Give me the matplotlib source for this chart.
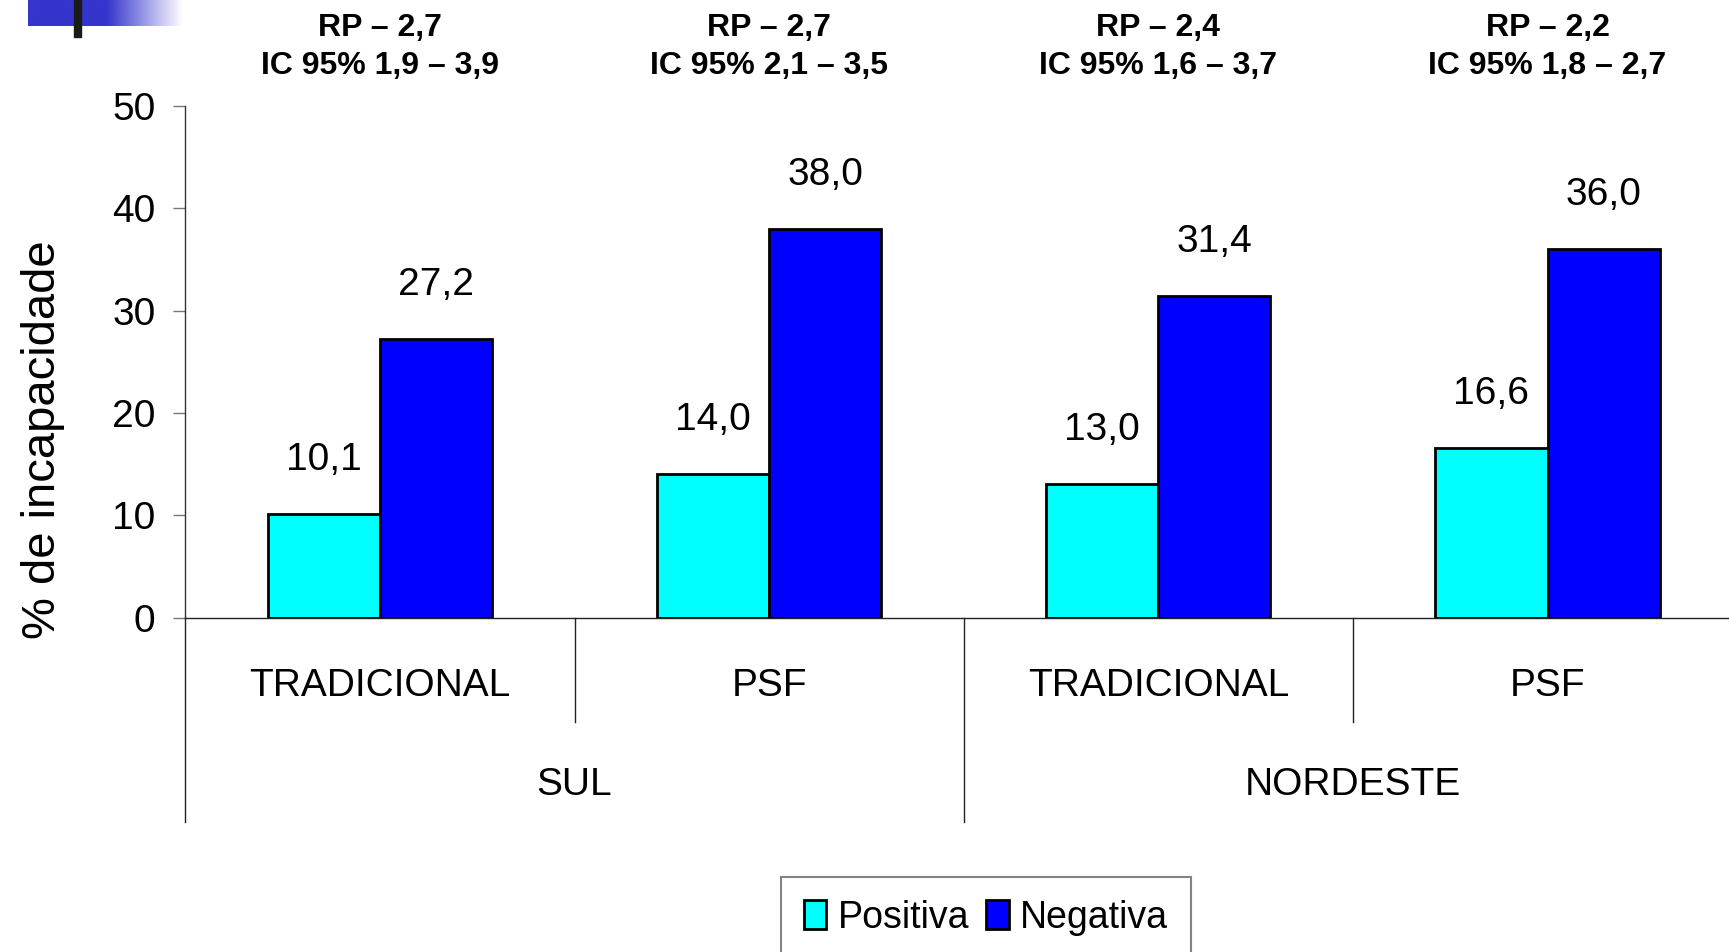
import numpy as np
import matplotlib
matplotlib.use("Agg")
import matplotlib.pyplot as plt
from matplotlib.patches import Rectangle, Patch

# dados
regioes = ["SUL", "NORDESTE"]
modelos = ["TRADICIONAL", "PSF", "TRADICIONAL", "PSF"]
positiva = [10.1, 14.0, 13.0, 16.6]
negativa = [27.2, 38.0, 31.4, 36.0]
rp = ["RP \u2013 2,7", "RP \u2013 2,7", "RP \u2013 2,4", "RP \u2013 2,2"]
ic = ["IC 95% 1,9 \u2013 3,9", "IC 95% 2,1 \u2013 3,5",
      "IC 95% 1,6 \u2013 3,7", "IC 95% 1,8 \u2013 2,7"]
series = ["Positiva", "Negativa"]
yticks = [0, 10, 20, 30, 40, 50]

fonte = ["Liberation Sans", "DejaVu Sans"]

W, H = 1729, 952
fig = plt.figure(figsize=(W / 100, H / 100), dpi=100)
fig.patch.set_facecolor("white")

# eixo principal (a direita sai um pouco da figura, como no original)
ax = fig.add_axes([185.3 / W, 1 - 617.5 / H, 1556.8 / W, 511.6 / H])
ax.set_xlim(0, 4)
ax.set_ylim(0, 50)

x = np.arange(len(modelos)) + 0.5
bw = 0.288
ax.bar(x - bw / 2, positiva, bw, color="#00FFFF", edgecolor="black", linewidth=2)
ax.bar(x + bw / 2, negativa, bw, color="#0000FF", edgecolor="black", linewidth=2)

# rótulos dos valores
for xs, vals in [(x - bw / 2, positiva), (x + bw / 2, negativa)]:
    for xi, v in zip(xs, vals):
        ax.annotate(f"{v:.1f}".replace(".", ","), (xi, v), xytext=(0, 54),
                    textcoords="offset pixels", ha="center", va="center",
                    fontsize=28, family=fonte)

# eixos
for s in ["top", "right"]:
    ax.spines[s].set_visible(False)
ax.spines["left"].set_color("#333333")
ax.spines["bottom"].set_color("#222222")
ax.spines["left"].set_linewidth(1.0)
ax.spines["bottom"].set_linewidth(1.0)
ax.set_xticks([])
ax.set_yticks(yticks)
ax.set_yticklabels([str(t) for t in yticks], family=fonte, fontsize=28)
ax.tick_params(axis="y", direction="out", length=8.6, width=1.0,
               color="#777777", pad=13)

yl = ax.set_ylabel("% de incapacidade", family=fonte, fontsize=34)
yl.set_va("center")
ax.yaxis.set_label_coords(-0.0915, 0.348)

# linhas das categorias abaixo do eixo
for xv in [1, 3]:
    ax.plot([xv, xv], [0, -0.204], transform=ax.get_xaxis_transform(),
            color="#222222", lw=1.0, clip_on=False)
for xv in [0, 2, 4]:
    ax.plot([xv, xv], [0, -0.399], transform=ax.get_xaxis_transform(),
            color="#222222", lw=1.0, clip_on=False)

for xi, m in zip(x, modelos):
    ax.text(xi, -0.134, m, transform=ax.get_xaxis_transform(), ha="center",
            va="center", fontsize=28, family=fonte)
for xi, r in zip([1, 3], regioes):
    ax.text(xi, -0.327, r, transform=ax.get_xaxis_transform(), ha="center",
            va="center", fontsize=28, family=fonte)

# RP / IC acima de cada grupo
for xi, a, b in zip(x, rp, ic):
    ax.text(xi, 1.153, a, transform=ax.get_xaxis_transform(), ha="center",
            va="center", fontsize=23, fontweight="bold", family=fonte)
    ax.text(xi, 1.078, b, transform=ax.get_xaxis_transform(), ha="center",
            va="center", fontsize=23, fontweight="bold", family=fonte)

# legenda (a borda de baixo fica cortada, como no original)
handles = [Patch(facecolor="#00FFFF", edgecolor="black", linewidth=2),
           Patch(facecolor="#0000FF", edgecolor="black", linewidth=2)]
leg = fig.legend(handles, series, loc="upper left",
                 bbox_to_anchor=(780.7 / W, 1 - 876.6 / H), ncol=2,
                 prop={"family": fonte, "size": 27}, frameon=True,
                 fancybox=False, handlelength=0.6, handleheight=0.8,
                 handletextpad=0.3, columnspacing=0.45, borderpad=0.62,
                 borderaxespad=0)
leg.get_frame().set_edgecolor("#666666")
leg.get_frame().set_linewidth(1.5)

# enfeite no canto superior esquerdo
deco = fig.add_axes([28 / W, 1 - 26 / H, 155 / W, 26 / H])
deco.set_axis_off()
grad = np.ones((1, 200, 4))
grad[..., 0] = 0x35 / 255
grad[..., 1] = 0x35 / 255
grad[..., 2] = 0xCC / 255
t = np.linspace(0, 1, 200)
grad[0, :, 3] = np.clip(1 - (t - 0.51) / 0.49, 0, 1)
deco.imshow(grad, aspect="auto", extent=(0, 1, 0, 1))
fig.add_artist(Rectangle((74 / W, 1 - 37 / H), 7 / W, 37 / H,
                         transform=fig.transFigure, color="#1a1a1a"))

fig.savefig("out.png", dpi=100)
